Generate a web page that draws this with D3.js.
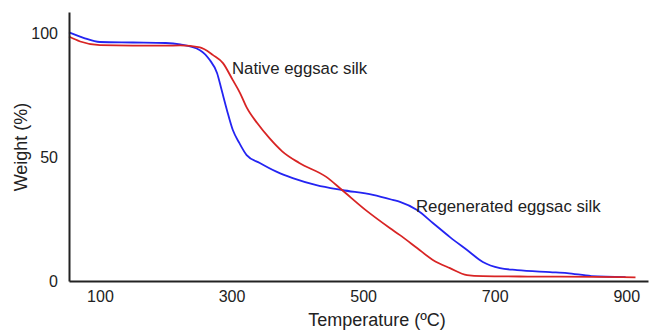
<!DOCTYPE html>
<html>
<head>
<meta charset="utf-8">
<script src="https://cdn.jsdelivr.net/npm/d3@7"></script>
<style>
  body { margin: 0; background: #fff; }
  text { font-family: "Liberation Sans", Arial, sans-serif; fill: #222; }
</style>
</head>
<body>
<div id="container"></div>
<script>
// tick labels
var xTicks = [100, 300, 500, 700, 900];
var yTicks = [0, 50, 100];

// Native eggsac silk (red)
var nativeTemp   = [53, 70, 100, 150, 200, 222, 252, 272, 287, 302, 313, 323, 339, 358, 377, 403, 444, 468, 504, 541, 556, 582, 606, 632, 658, 682, 750, 850, 914];
var nativeWeight = [98.6, 96.6, 95.1, 94.9, 94.9, 95, 94.2, 91.1, 87.9, 81, 75.8, 70, 63.7, 57.5, 52.3, 47.6, 42, 36.7, 28.6, 21.3, 18.5, 13.3, 8.5, 5.2, 2.4, 2, 1.8, 1.7, 1.5];

// Regenerated eggsac silk (blue)
var regenTemp   = [53, 75, 100, 150, 200, 222, 252, 267, 278, 285, 293, 302, 312, 323, 343, 369, 393, 429, 468, 515, 545, 556, 582, 606, 632, 658, 682, 708, 734, 784, 810, 847, 899];
var regenWeight = [100.3, 98.1, 96.4, 96.2, 96, 95.4, 93.1, 89.1, 83.9, 77, 69, 60.9, 55.6, 50.8, 47.6, 44, 41.5, 38.7, 36.7, 34.7, 32.7, 31.9, 28.6, 23.4, 17.7, 12.5, 7.7, 5.2, 4.4, 3.6, 3.2, 2, 1.6];

var width = 652, height = 331;

var x = d3.scaleLinear().domain([53, 933]).range([69, 648]);
var y = d3.scaleLinear().domain([0, 108.5]).range([281, 12]);

var svg = d3.select("#container")
  .append("svg")
    .attr("width", width)
    .attr("height", height);

var line = d3.line()
  .x(function(d) { return x(d[0]); })
  .y(function(d) { return y(d[1]); })
  .curve(d3.curveMonotoneX);

var nativeData = d3.zip(nativeTemp, nativeWeight);
var regenData = d3.zip(regenTemp, regenWeight);

svg.append("path")
  .datum(regenData)
  .attr("d", line)
  .attr("fill", "none")
  .attr("stroke", "#2424f2")
  .attr("stroke-width", 1.8);

svg.append("path")
  .datum(nativeData)
  .attr("d", line)
  .attr("fill", "none")
  .attr("stroke", "#d82424")
  .attr("stroke-width", 1.8);

// axes
var xAxis = svg.append("g")
  .attr("transform", "translate(0," + y(0) + ")")
  .call(d3.axisBottom(x).tickValues(xTicks).tickSize(0).tickPadding(10));
xAxis.select(".domain").attr("stroke", "#222").attr("stroke-width", 2);
xAxis.selectAll("text")
  .style("font-size", "16px")
  .style("font-family", "Liberation Sans, Arial, sans-serif")
  .attr("fill", "#222");

var yAxis = svg.append("g")
  .attr("transform", "translate(" + x(53) + ",0)")
  .call(d3.axisLeft(y).tickValues(yTicks).tickSize(0).tickPadding(11));
yAxis.select(".domain").attr("stroke", "#222").attr("stroke-width", 2);
yAxis.selectAll("text")
  .style("font-size", "16px")
  .style("font-family", "Liberation Sans, Arial, sans-serif")
  .attr("fill", "#222");

// axis titles
svg.append("text")
  .attr("x", 377)
  .attr("y", 326)
  .attr("text-anchor", "middle")
  .style("font-size", "18px")
  .text("Temperature (ºC)");

svg.append("text")
  .attr("transform", "translate(27,147) rotate(-90)")
  .attr("text-anchor", "middle")
  .style("font-size", "18px")
  .text("Weight (%)");

// curve labels
svg.append("text")
  .attr("x", 232)
  .attr("y", 74)
  .style("font-size", "16.8px")
  .text("Native eggsac silk");

svg.append("text")
  .attr("x", 416)
  .attr("y", 212)
  .style("font-size", "16.8px")
  .text("Regenerated eggsac silk");
</script>
</body>
</html>
